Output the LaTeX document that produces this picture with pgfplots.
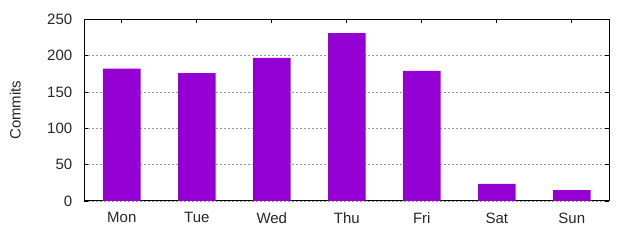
\documentclass[border=0pt]{standalone}
\usepackage{fontspec}
\setmainfont{Liberation Sans}
\usepackage{pgfplots}
\pgfplotsset{compat=1.18}
\definecolor{barviolet}{HTML}{9400D3}
\begin{document}
\begin{tikzpicture}[x=1pt,y=1pt]
\path[use as bounding box] (0,0) rectangle (640,240);
\begin{axis}[
  at={(84.3pt,39pt)}, anchor=south west,
  width=525pt, height=181.7pt, scale only axis,
  xmin=-0.5, xmax=6.5, ymin=0, ymax=250,
  xtick={0,1,2,3,4,5,6},
  xticklabels={Mon,Tue,Wed,Thu,Fri,Sat,Sun},
  ytick={0,50,100,150,200,250},
  tick align=inside,
  major tick length=4pt,
  tick style={black, line width=0.8pt},
  axis line style={black, line width=1pt},
  ymajorgrids,
  grid style={gray!80, dashed, dash pattern=on 2pt off 2pt, line width=0.6pt},
  /pgf/number format/assume math mode=true,
  tick label style={font=\fontsize{15}{18}\selectfont, text=black!85},
  yticklabel style={xshift=-8.5pt},
  xticklabel style={yshift=-8pt},
  ylabel={Commits},
  every axis y label/.style={at={(0,0.5)}, xshift=-69pt, rotate=90, anchor=center, font=\fontsize{15}{18}\selectfont, text=black!85},
]
\addplot[ybar, bar width=0.5, fill=barviolet, draw=none] coordinates {
  (0,182) (1,176) (2,197) (3,231) (4,179) (5,23.5) (6,15)
};
\end{axis}
\end{tikzpicture}
\end{document}
